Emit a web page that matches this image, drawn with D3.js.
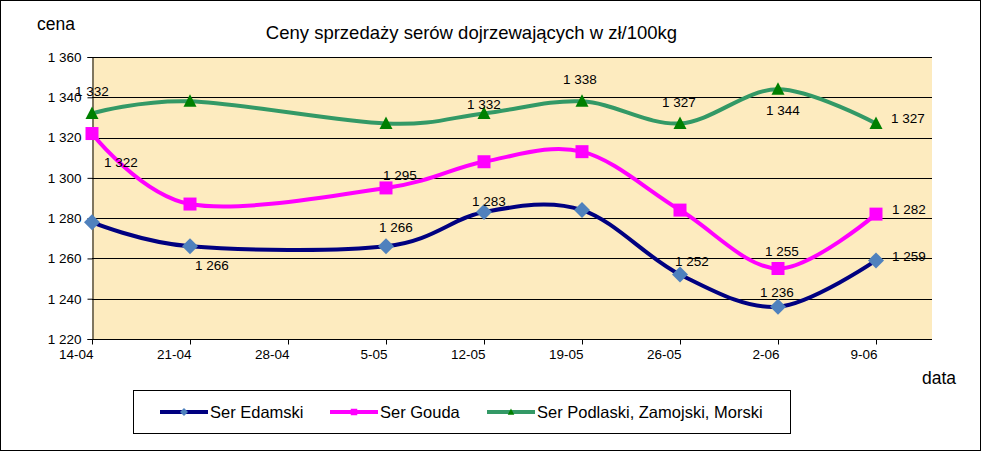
<!DOCTYPE html>
<html><head><meta charset="utf-8">
<script src="https://cdn.jsdelivr.net/npm/d3@7"></script>
<style>
html,body{margin:0;padding:0;background:#fff;}
svg{display:block;font-family:"Liberation Sans",Arial,sans-serif;}
</style></head>
<body><svg id="c" width="981" height="451"></svg>
<script>
const categories = ["14-04","21-04","28-04","5-05","12-05","19-05","26-05","2-06","9-06"];
const edamski  = [1278,1266,null,1266,1283,1284,1252,1236,1259];
const gouda    = [1322,1287,null,1295,1308,1313,1284,1255,1282];
const podlaski = [1332,1338,null,1327,1332,1338,1327,1344,1327];
const yTicks = [1220,1240,1260,1280,1300,1320,1340,1360];
const seriesNames = ["Ser Edamski","Ser Gouda","Ser Podlaski, Zamojski, Morski"];
// which points carry a value label
const edamskiLabels  = [0,1,0,1,1,0,1,1,1];
const goudaLabels    = [1,0,0,1,0,0,0,1,1];
const podlaskiLabels = [1,0,0,0,1,1,1,1,1];

// label placement (styling, px offsets from point)
const labelOffsets = [
  {1:[5,19],3:[-7,-19],4:[-12,-11],6:[-5,-13],7:[-18,-14],8:[16,-4]},
  {0:[12,29],3:[-3,-13],7:[-13,-17],8:[16,-5]},
  {0:[-17,-22],4:[-17,-9],5:[-19,-22],6:[-18,-21],7:[-12,21],8:[15,-5]}
];
const styles = [
  {line:"#000080", fill:"#4F81BD", marker:"diamond"},
  {line:"#FF00FF", fill:"#FF00FF", marker:"square"},
  {line:"#339966", fill:"#008000", marker:"triangle"}
];

const svg = d3.select("#c");
const fmt = v => d3.format(",")(v).replace(/,/g," ");

// outer border
svg.append("rect").attr("x",0.5).attr("y",0.5).attr("width",980).attr("height",450)
  .attr("fill","#fff").attr("stroke","#000");

const plotL = 92, plotR = 932, plotT = 57, plotB = 339;
const x = d3.scaleLinear().domain([0, categories.length-1]).range([92, 876]);
const y = d3.scaleLinear().domain([1220,1360]).range([plotB, plotT]);

svg.append("rect").attr("x",plotL).attr("y",plotT).attr("width",plotR-plotL).attr("height",plotB-plotT)
  .attr("fill","#FDEBBF");

// gridlines
svg.append("g").selectAll("line").data(yTicks.filter(t=>t>1220)).join("line")
  .attr("x1",plotL).attr("x2",plotR)
  .attr("y1",d=>Math.round(y(d))+0.5).attr("y2",d=>Math.round(y(d))+0.5)
  .attr("stroke","#000").attr("stroke-width",1);

// axes
const yAxis = d3.axisLeft(y).tickValues(yTicks).tickFormat(fmt).tickSize(5).tickPadding(6);
const gy = svg.append("g").attr("transform",`translate(${plotL+0.5},0)`).call(yAxis);
const xAxis = d3.axisBottom(x).tickValues(d3.range(categories.length)).tickFormat(i=>categories[i]).tickSize(5).tickPadding(5);
const gx = svg.append("g").attr("transform",`translate(0,${plotB+0.5})`).call(xAxis);
gx.select(".domain").attr("d",`M${plotL},0H${plotR}`);
gx.selectAll(".tick text").attr("text-anchor","end").attr("dx","1");
[gy,gx].forEach(g=>{
  g.selectAll("text").attr("font-size",13.5).attr("fill","#000").attr("font-family","Liberation Sans, Arial, sans-serif");
  g.selectAll("line,.domain").attr("stroke","#000");
});

// series
const all = [edamski,gouda,podlaski];
const labelFlags = [edamskiLabels,goudaLabels,podlaskiLabels];
const line = d3.line().x(d=>x(d.i)).y(d=>y(d.v)).curve(d3.curveCardinal.tension(0));

function markerPath(type){
  if(type==="diamond") return "M0,-8L8,0L0,8L-8,0Z";
  if(type==="square") return "M-6.5,-6.5H6.5V6.5H-6.5Z";
  return "M0,-7L6.5,5.5H-6.5Z";
}

all.forEach((vals,s)=>{
  const pts = vals.map((v,i)=>({i,v})).filter(d=>d.v!=null);
  svg.append("path").datum(pts).attr("d",line).attr("fill","none")
    .attr("stroke",styles[s].line).attr("stroke-width",4).attr("stroke-linejoin","round");
});
all.forEach((vals,s)=>{
  const pts = vals.map((v,i)=>({i,v})).filter(d=>d.v!=null);
  svg.append("g").selectAll("path").data(pts).join("path")
    .attr("transform",d=>`translate(${x(d.i)},${y(d.v)})`)
    .attr("d",markerPath(styles[s].marker)).attr("fill",styles[s].fill);
});
all.forEach((vals,s)=>{
  const pts = vals.map((v,i)=>({i,v})).filter(d=>d.v!=null && labelFlags[s][d.i]);
  svg.append("g").selectAll("text").data(pts).join("text")
    .attr("x",d=>x(d.i)+labelOffsets[s][d.i][0])
    .attr("y",d=>y(d.v)+labelOffsets[s][d.i][1])
    .attr("dy","0.35em").attr("font-size",13.5).attr("fill","#000")
    .text(d=>fmt(d.v));
});

// titles
svg.append("text").attr("x",471.5).attr("y",39).attr("text-anchor","middle").attr("font-size",18.5).text("Ceny sprzedaży serów dojrzewających w zł/100kg");
svg.append("text").attr("x",37).attr("y",30).attr("font-size",17.5).text("cena");
svg.append("text").attr("x",922).attr("y",384).attr("font-size",17.5).text("data");

// legend
const lg = svg.append("g");
lg.append("rect").attr("x",133.5).attr("y",390.5).attr("width",657).attr("height",43).attr("fill","#fff").attr("stroke","#000");
const legX = [160,330,487];
seriesNames.forEach((n,s)=>{
  const g = lg.append("g").attr("transform",`translate(${legX[s]},412)`);
  g.append("line").attr("x1",0).attr("x2",48).attr("stroke",styles[s].line).attr("stroke-width",4);
  g.append("path").attr("transform","translate(24,0) scale(0.5)").attr("d",markerPath(styles[s].marker)).attr("fill",styles[s].fill);
  g.append("text").attr("x",50).attr("dy","0.35em").attr("font-size",16.5).text(n);
});
</script></body></html>
